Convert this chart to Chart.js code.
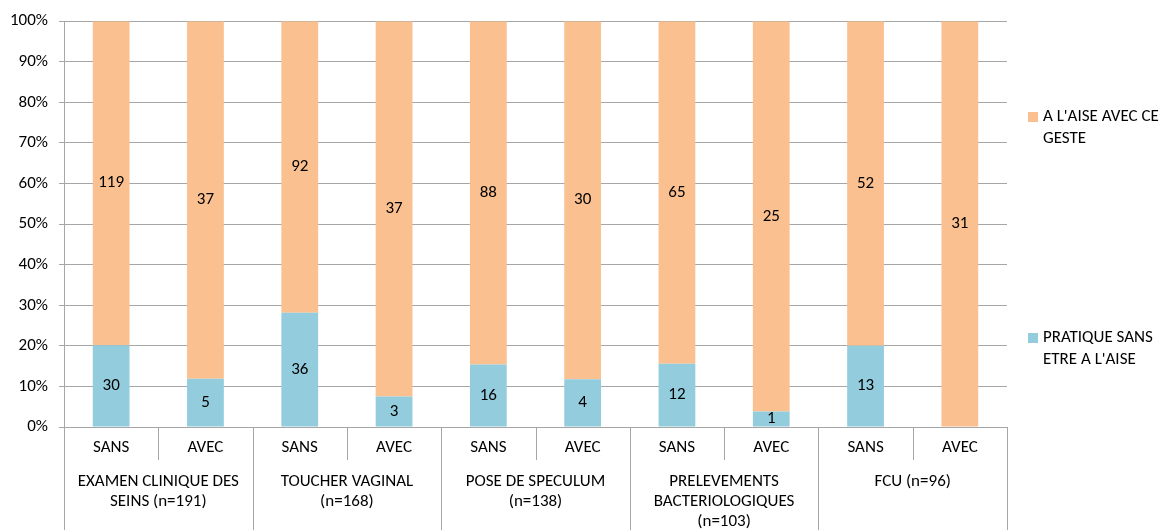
<!DOCTYPE html>
<html>
<head>
<meta charset="utf-8">
<script src="https://cdn.jsdelivr.net/npm/chart.js@4.4.1/dist/chart.umd.min.js"></script>
<style>
html,body{margin:0;padding:0;background:#fff;}
canvas{display:block;}
</style>
</head>
<body>
<canvas id="c" width="1175" height="530"></canvas>
<script>
// ---- data ----
const categories = ["SANS","AVEC","SANS","AVEC","SANS","AVEC","SANS","AVEC","SANS","AVEC"];
const groups = [
  ["EXAMEN CLINIQUE DES","SEINS (n=191)"],
  ["TOUCHER VAGINAL","(n=168)"],
  ["POSE DE SPECULUM","(n=138)"],
  ["PRELEVEMENTS","BACTERIOLOGIQUES","(n=103)"],
  ["FCU (n=96)"]
];
const pratiqueSans = [30,5,36,3,16,4,12,1,13,0];
const aLaise = [119,37,92,37,88,30,65,25,52,31];
const seriesNames = ["PRATIQUE SANS ETRE A L'AISE","A L'AISE AVEC CE GESTE"];
const legendLines = [["PRATIQUE SANS","ETRE A L'AISE"],["A L'AISE AVEC CE","GESTE"]];
const yTicks = [0,10,20,30,40,50,60,70,80,90,100];

const totals = pratiqueSans.map((v,i)=>v+aLaise[i]);
const pctBlue = pratiqueSans.map((v,i)=>v/totals[i]*100);
const pctOrange = aLaise.map((v,i)=>v/totals[i]*100);
const raw = [pratiqueSans, aLaise];

const FONT = "Carlito, Lato, 'Open Sans', sans-serif";
const FS = 17;
const GRID = "#a6a6a6";
const BLUE = "#93cddd";
const ORANGE = "#fac090";
const TXT = "#000000";

const overlay = {
  id:'overlay',
  afterDatasetsDraw(chart){
    const ctx = chart.ctx;
    ctx.save();
    ctx.font = FS + "px " + FONT;
    ctx.fillStyle = TXT;
    ctx.textAlign = "center";
    ctx.textBaseline = "middle";
    chart.data.datasets.forEach((ds,di)=>{
      const meta = chart.getDatasetMeta(di);
      meta.data.forEach((bar,i)=>{
        const v = raw[di][i];
        if(!v) return;
        const y = (bar.y + bar.base)/2;
        ctx.fillText(String(v), bar.x, y);
      });
    });
    ctx.restore();
  },
  afterDraw(chart){
    const ctx = chart.ctx;
    const xs = chart.scales.x;
    const area = chart.chartArea;
    const bottom = chart.height;
    ctx.save();
    ctx.strokeStyle = GRID;
    ctx.lineWidth = 1;
    const n = categories.length;
    const bnd = [];
    bnd.push(area.left);
    for(let i=0;i<n-1;i++){
      bnd.push((xs.getPixelForValue(i)+xs.getPixelForValue(i+1))/2);
    }
    bnd.push(area.right);
    bnd.forEach((x,k)=>{
      const isGroup = (k%2===0);
      const xx = Math.round(x)+0.5;
      ctx.beginPath();
      ctx.moveTo(xx, area.bottom);
      ctx.lineTo(xx, isGroup ? bottom : area.bottom+33);
      ctx.stroke();
    });
    // group labels
    ctx.font = FS + "px " + FONT;
    ctx.fillStyle = TXT;
    ctx.textAlign = "center";
    ctx.textBaseline = "middle";
    groups.forEach((lines,g)=>{
      const cx = (bnd[2*g]+bnd[2*g+2])/2;
      lines.forEach((t,li)=>{
        ctx.fillText(t, cx, area.bottom + 55 + li*20);
      });
    });
    // legend
    const legendPos = [{y:338},{y:117}];
    const colors = [BLUE, ORANGE];
    ctx.textAlign = "left";
    legendLines.forEach((lines,di)=>{
      const y0 = legendPos[di].y;
      ctx.fillStyle = colors[di];
      ctx.fillRect(1028, y0-5, 10, 10);
      ctx.fillStyle = TXT;
      lines.forEach((t,li)=>{
        ctx.fillText(t, 1043, y0 + li*22);
      });
    });
    ctx.restore();
  }
};

new Chart(document.getElementById('c'), {
  type:'bar',
  data:{
    labels:categories,
    datasets:[
      {label:seriesNames[0], data:pctBlue, backgroundColor:BLUE, borderWidth:0, barPercentage:0.39, categoryPercentage:1},
      {label:seriesNames[1], data:pctOrange, backgroundColor:ORANGE, borderWidth:0, barPercentage:0.39, categoryPercentage:1}
    ]
  },
  options:{
    responsive:false,
    animation:false,
    layout:{padding:{top:19,right:168,left:0,bottom:0}},
    plugins:{legend:{display:false}, tooltip:{enabled:false}},
    scales:{
      x:{
        stacked:true,
        offset:true,
        grid:{display:false, drawTicks:false},
        border:{display:true, color:GRID},
        ticks:{font:{family:FONT,size:FS}, color:TXT, padding:11, maxRotation:0, autoSkip:false},
        afterFit(s){ s.height = 103; }
      },
      y:{
        stacked:true,
        min:0, max:100,
        afterBuildTicks(s){ s.ticks = yTicks.map(v=>({value:v})); },
        grid:{color:GRID, tickLength:5, drawTicks:true},
        border:{display:true, color:GRID},
        ticks:{font:{family:FONT,size:FS}, color:TXT, padding:11, callback:v=>v+"%"},
        afterFit(s){ s.width = 64; }
      }
    }
  },
  plugins:[overlay]
});
</script>
</body>
</html>
